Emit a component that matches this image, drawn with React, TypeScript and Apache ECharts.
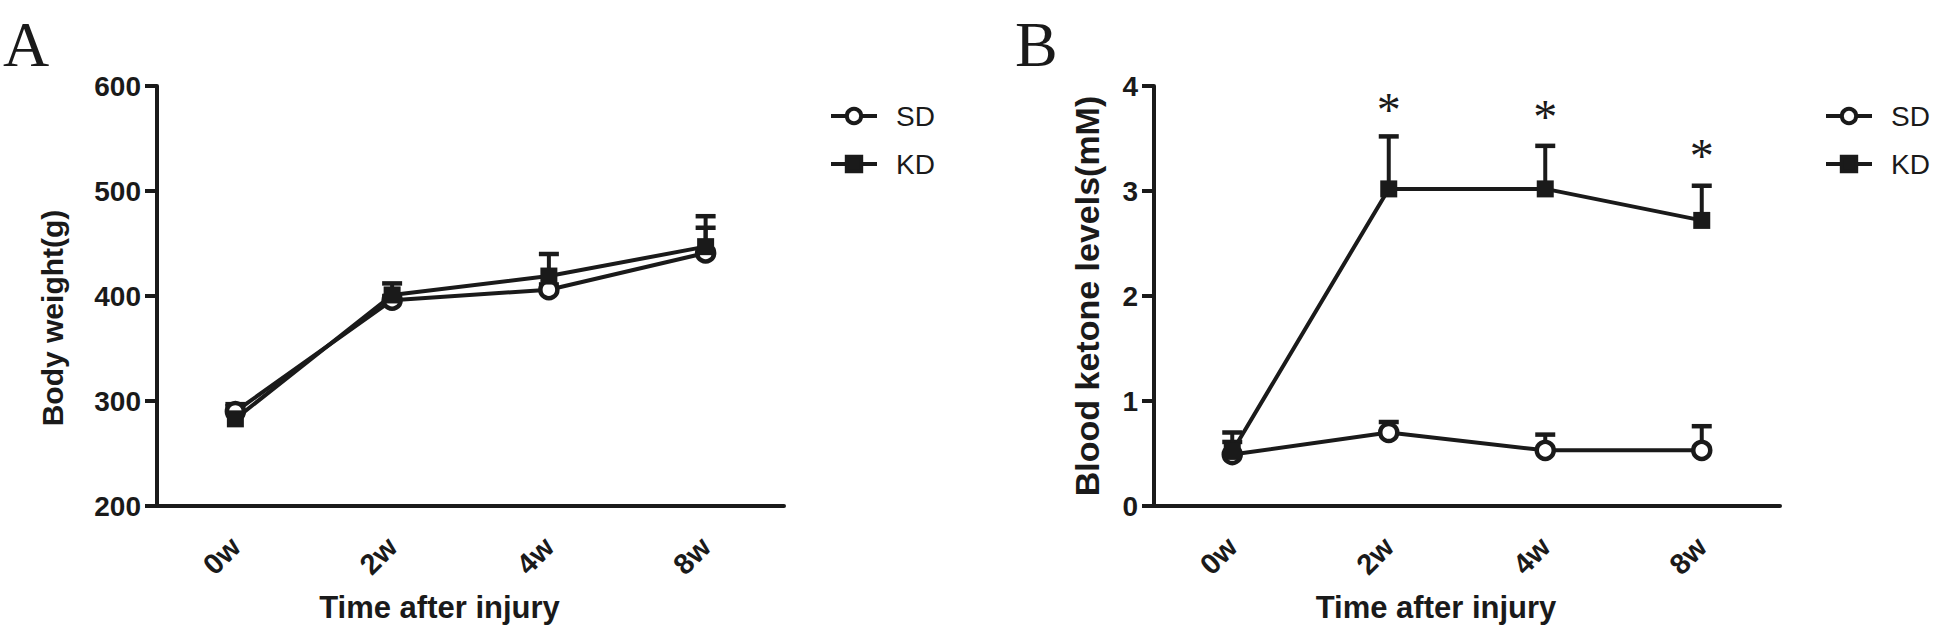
import React, { useEffect, useRef } from "react";
import * as echarts from "echarts";

const categories = ["0w", "2w", "4w", "8w"];

// Panel A: body weight (g)
const weightSD = [290, 396, 406, 441];
const weightSDErr = [7, 4, 5, 24];
const weightKD = [283, 401, 419, 447];
const weightKDErr = [12, 11, 21, 29];

// Panel B: blood ketone levels (mM)
const ketoneSD = [0.49, 0.7, 0.53, 0.53];
const ketoneSDErr = [0.12, 0.1, 0.15, 0.23];
const ketoneKD = [0.52, 3.02, 3.02, 2.72];
const ketoneKDErr = [0.18, 0.5, 0.41, 0.33];

// significance markers (category index, y value of the star)
const starIdx = [1, 2, 3];
const starY = [3.85, 3.79, 3.41];

const seriesNames = ["SD", "KD"];
const weightTicks = { min: 200, max: 600, interval: 100 };
const ketoneTicks = { min: 0, max: 4, interval: 1 };

const INK = "#1a1a1a";
const SANS = "'Liberation Sans', Arial, Helvetica, sans-serif";
const SERIF = "'Liberation Serif', 'Times New Roman', serif";

function errData(means: number[], errs: number[]) {
  return means.map((m, i) => [i, m, errs[i]]);
}

function errorSeries(name: string, idx: number, means: number[], errs: number[]) {
  return {
    type: "custom",
    name,
    xAxisIndex: idx,
    yAxisIndex: idx,
    z: 1,
    silent: true,
    data: errData(means, errs),
    encode: { x: 0, y: 1 },
    renderItem: (params: any, api: any) => {
      const x = api.value(0);
      const m = api.value(1);
      const e = api.value(2);
      const p0 = api.coord([x, m]);
      const p1 = api.coord([x, m + e]);
      return {
        type: "group",
        children: [
          {
            type: "line",
            shape: { x1: p0[0], y1: p0[1], x2: p1[0], y2: p1[1] },
            style: { stroke: INK, lineWidth: 4 },
          },
          {
            type: "line",
            shape: { x1: p1[0] - 10, y1: p1[1], x2: p1[0] + 10, y2: p1[1] },
            style: { stroke: INK, lineWidth: 4.5 },
          },
        ],
      };
    },
  };
}

function lineSeries(name: string, idx: number, values: number[], symbol: string) {
  const open = symbol === "circle";
  return {
    type: "line",
    name,
    xAxisIndex: idx,
    yAxisIndex: idx,
    z: 3,
    color: INK,
    data: values,
    symbol,
    symbolSize: 17,
    showSymbol: true,
    lineStyle: { color: INK, width: 4 },
    itemStyle: open
      ? { color: "#ffffff", borderColor: INK, borderWidth: 4.5 }
      : { color: INK, borderColor: INK, borderWidth: 0 },
  };
}

function xAxis(gridIndex: number) {
  return {
    type: "category",
    gridIndex,
    data: categories,
    boundaryGap: true,
    axisLine: { lineStyle: { color: INK, width: 4 } },
    axisTick: { alignWithLabel: true, length: 12, lineStyle: { color: INK, width: 4 } },
    axisLabel: {
      rotate: 45,
      interval: 0,
      margin: 36,
      color: INK,
      fontSize: 29,
      fontWeight: "bold",
      fontFamily: SANS,
    },
    name: "Time after injury",
    nameLocation: "middle",
    nameGap: 86,
    nameTextStyle: {
      color: INK,
      fontSize: 31,
      fontWeight: "bold",
      fontFamily: SANS,
      padding: [0, 62, 0, 0],
    },
    splitLine: { show: false },
  };
}

function yAxis(gridIndex: number, ticks: any, name: string, nameSize: number, nameGap: number) {
  return {
    type: "value",
    gridIndex,
    min: ticks.min,
    max: ticks.max,
    interval: ticks.interval,
    axisLine: { show: true, lineStyle: { color: INK, width: 4 } },
    axisTick: { show: true, length: 12, lineStyle: { color: INK, width: 4 } },
    axisLabel: {
      margin: 16,
      color: INK,
      fontSize: 28,
      fontWeight: "bold",
      fontFamily: SANS,
    },
    splitLine: { show: false },
    name,
    nameLocation: "middle",
    nameRotate: 90,
    nameGap,
    nameTextStyle: { color: INK, fontSize: nameSize, fontWeight: "bold", fontFamily: SANS },
  };
}

function legend(left: number) {
  return {
    left,
    top: 102,
    orient: "vertical",
    padding: 0,
    itemWidth: 46,
    itemHeight: 18,
    itemGap: 20,
    selectedMode: false,
    data: seriesNames,
    lineStyle: { width: 4, color: INK },
    itemStyle: { borderWidth: 4, borderColor: INK },
    textStyle: { color: INK, fontSize: 28, fontFamily: SANS, padding: [0, 0, 0, 14] },
  };
}

export default function App() {
  const ref = useRef<HTMLDivElement>(null);
  useEffect(() => {
    if (!ref.current) return;
    const chart = echarts.init(ref.current, null, { renderer: "svg" });
    const option: any = {
      animation: false,
      backgroundColor: "#ffffff",
      color: [INK],
      grid: [
        { left: 157, top: 86, width: 627, height: 420, containLabel: false },
        { left: 1154, top: 86, width: 626, height: 420, containLabel: false },
      ],
      xAxis: [xAxis(0), xAxis(1)],
      yAxis: [
        yAxis(0, weightTicks, "", 29, 90),
        yAxis(1, ketoneTicks, "Blood ketone levels(mM)", 34, 50),
      ],
      legend: [legend(829), legend(1824)],
      graphic: [
        { type: "text", left: 3, top: 12, style: { text: "A", font: `64px ${SERIF}`, fill: INK, lineHeight: 64 } },
        { type: "text", left: 1015, top: 12, style: { text: "B", font: `64px ${SERIF}`, fill: INK, lineHeight: 64 } },
        {
          type: "text",
          x: 52,
          y: 318,
          rotation: Math.PI / 2,
          style: {
            text: "Body weight(g)",
            font: `bold 30px ${SANS}`,
            fill: INK,
            textAlign: "center",
            textVerticalAlign: "middle",
          },
        },
      ],
      series: [
        errorSeries("SD error", 0, weightSD, weightSDErr),
        errorSeries("KD error", 0, weightKD, weightKDErr),
        lineSeries("SD", 0, weightSD, "circle"),
        lineSeries("KD", 0, weightKD, "rect"),
        errorSeries("SD error", 1, ketoneSD, ketoneSDErr),
        errorSeries("KD error", 1, ketoneKD, ketoneKDErr),
        lineSeries("SD", 1, ketoneSD, "circle"),
        lineSeries("KD", 1, ketoneKD, "rect"),
        {
          type: "custom",
          name: "sig",
          xAxisIndex: 1,
          yAxisIndex: 1,
          silent: true,
          data: starIdx.map((c, i) => [c, starY[i]]),
          encode: { x: 0, y: 1 },
          renderItem: (params: any, api: any) => {
            const p = api.coord([api.value(0), api.value(1)]);
            return {
              type: "text",
              x: p[0],
              y: p[1] + 8,
              style: {
                text: "*",
                font: `48px ${SERIF}`,
                fill: INK,
                textAlign: "center",
                textVerticalAlign: "middle",
              },
            };
          },
        },
      ],
    };
    chart.setOption(option);
    return () => chart.dispose();
  }, []);
  return (
    <div
      ref={ref}
      style={{ position: "fixed", left: 0, top: 0, width: 1943, height: 628, background: "#fff" }}
    />
  );
}
